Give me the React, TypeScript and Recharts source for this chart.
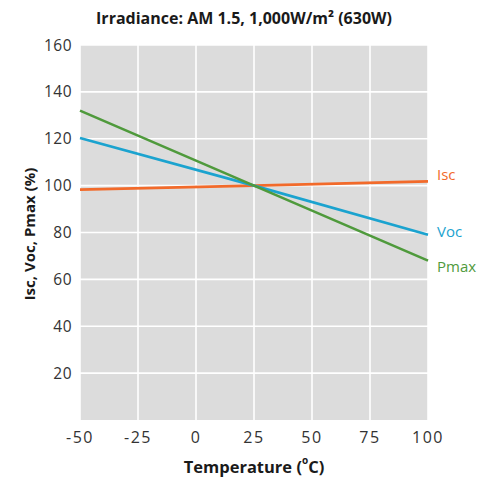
import React from 'react';
import { LineChart, Line, XAxis, YAxis, CartesianGrid, Label } from 'recharts';

const temperatures = [-50, 25, 100];
const iscValues = [98.3, 100, 101.8];
const vocValues = [120.3, 100, 79];
const pmaxValues = [132, 100, 68];
const xTicks = [-50, -25, 0, 25, 50, 75, 100];
const yTicks = [20, 40, 60, 80, 100, 120, 140, 160];

const data = temperatures.map((t, i) => ({
  t,
  isc: iscValues[i],
  voc: vocValues[i],
  pmax: pmaxValues[i],
}));

const FONT = '"Open Sans", sans-serif';
const ISC = '#F26A2A';
const VOC = '#1BA3CF';
const PMAX = '#4F9A3C';

const endLabel = (text: string, color: string, dy: number) => (props: any) => {
  const { x, y, index } = props;
  if (index !== data.length - 1) return <g />;
  return (
    <text x={x + 9} y={y + dy} fill={color} fontSize={15} fontFamily={FONT} dominantBaseline="central">
      {text}
    </text>
  );
};

const YTitle = () => {
  const cx = 29;
  const cy = 234;
  return (
    <text
      x={cx}
      y={cy}
      transform={`rotate(-90, ${cx}, ${cy})`}
      textAnchor="middle"
      dominantBaseline="central"
      fontSize={15}
      fontWeight="bold"
      fontFamily={FONT}
      fill="#1a1a1a"
    >
      Isc, Voc, Pmax (%)
    </text>
  );
};

const XTitle = (props: any) => {
  const vb = props.viewBox || {};
  const cx = vb.x + vb.width / 2;
  const cy = 466;
  return (
    <text x={cx} y={cy} textAnchor="middle" dominantBaseline="central" fontSize={16.5} fontWeight="bold" fontFamily={FONT} fill="#1a1a1a">
      Temperature (
      <tspan fontSize={10} dy={-6}>o</tspan>
      <tspan dy={6}>C)</tspan>
    </text>
  );
};

const XTick = (props: any) => {
  const { x, y, payload } = props;
  return (
    <text
      x={x}
      y={y}
      dy={12}
      textAnchor="middle"
      fontSize={16}
      letterSpacing={1.5}
      fontFamily={FONT}
      fill="#333"
    >
      {payload.value}
    </text>
  );
};

export default function App() {
  return (
    <div style={{ position: 'absolute', left: 0, top: 0, width: 488, height: 481, background: '#fff' }}>
      <div
        style={{
          position: 'absolute',
          left: 0,
          top: 6,
          width: 488,
          textAlign: 'center',
          fontFamily: FONT,
          fontWeight: 'bold',
          fontSize: 16,
          color: '#1a1a1a',
          lineHeight: '24px',
        }}
      >
        Irradiance: AM 1.5, 1,000W/m² (630W)
      </div>
      <LineChart width={488} height={481} data={data} margin={{ top: 45, right: 60, bottom: 31, left: 0 }}>
        <CartesianGrid fill="#DCDCDC" stroke="#ffffff" strokeWidth={1.6} horizontalValues={yTicks} verticalValues={xTicks} />
        <XAxis
          dataKey="t"
          type="number"
          domain={[-50, 100]}
          ticks={xTicks}
          axisLine={false}
          tickLine={false}
          tickMargin={5}
          height={30}
          tick={<XTick />}
          interval={0}
        >
          <Label content={<XTitle />} />
        </XAxis>
        <YAxis
          type="number"
          domain={[0, 160]}
          ticks={yTicks}
          axisLine={false}
          tickLine={false}
          width={80}
          tick={{ fontSize: 15.5, fontFamily: FONT, fill: '#333', letterSpacing: 0.5 }}
          interval={0}
        >
          <Label content={<YTitle />} />
        </YAxis>
        <Line dataKey="isc" stroke={ISC} strokeWidth={2.6} dot={false} isAnimationActive={false} label={endLabel('Isc', ISC, -7)} />
        <Line dataKey="voc" stroke={VOC} strokeWidth={2.6} dot={false} isAnimationActive={false} label={endLabel('Voc', VOC, -4)} />
        <Line dataKey="pmax" stroke={PMAX} strokeWidth={2.6} dot={false} isAnimationActive={false} label={endLabel('Pmax', PMAX, 5)} />
      </LineChart>
    </div>
  );
}
